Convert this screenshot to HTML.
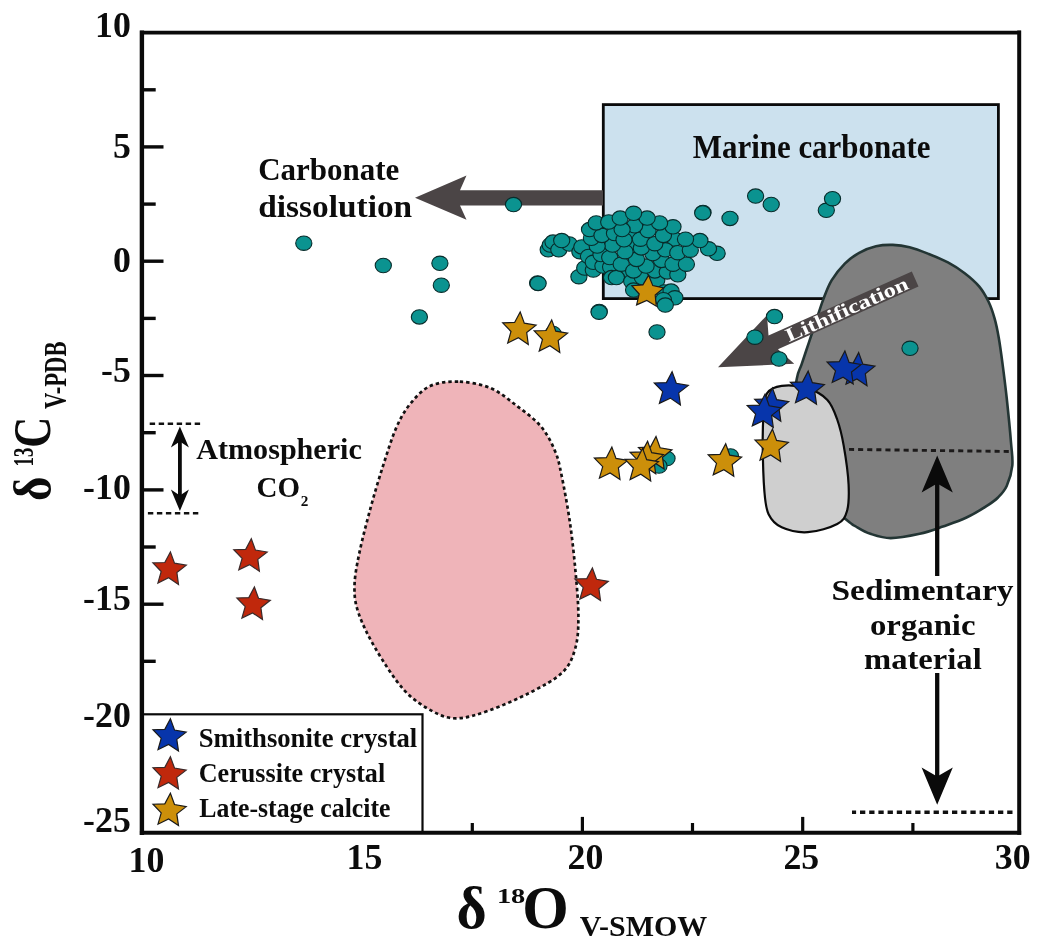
<!DOCTYPE html><html><head><meta charset="utf-8"><title>Stable isotope plot</title><style>html,body{margin:0;padding:0;background:#fff}svg{display:block}text{font-family:"Liberation Serif", serif;}</style></head><body>
<svg width="1042" height="949" viewBox="0 0 1042 949">
<rect width="1042" height="949" fill="#fff"/>
<rect x="603.3" y="104.6" width="395.1" height="194.0" fill="#cce1ee" stroke="#0a0a0a" stroke-width="2.8"/>
<path d="M603,190.3 L460,190.3 L466.5,175.5 L415,197.8 L466.5,219.8 L460,205.6 L603,205.6 Z" fill="#4b4546"/>
<path d="M458.2,381.6 C448.2,381.3 438.2,382.3 430.2,386.0 C422.2,389.7 415.8,397.0 410.1,404.0 C404.4,411.0 400.6,417.8 396.1,428.1 C391.6,438.4 387.3,452.6 383.0,466.0 C378.7,479.4 374.4,493.8 370.5,508.2 C366.6,522.6 362.2,539.3 359.5,552.3 C356.8,565.3 354.7,575.9 354.5,586.0 C354.3,596.1 355.0,602.6 358.5,613.0 C362.0,623.4 367.9,635.7 375.5,648.5 C383.1,661.3 394.4,679.5 404.0,690.0 C413.6,700.5 424.2,706.8 433.0,711.5 C441.8,716.2 447.7,718.5 457.0,718.3 C466.3,718.1 476.8,714.8 489.0,710.5 C501.2,706.2 518.1,698.8 530.3,692.5 C542.5,686.2 554.9,679.8 562.4,672.5 C569.9,665.2 572.5,657.9 575.2,648.5 C577.9,639.1 578.4,629.8 578.4,616.4 C578.4,603.0 576.7,584.3 575.2,568.3 C573.7,552.3 571.9,535.8 569.6,520.3 C567.3,504.7 563.9,486.6 561.5,475.0 C559.1,463.4 558.4,459.1 555.0,451.0 C551.6,442.9 547.3,434.0 541.0,426.5 C534.7,419.0 525.5,412.4 517.0,406.0 C508.6,399.6 500.1,392.1 490.3,388.0 C480.5,383.9 468.2,381.9 458.2,381.6Z" fill="#efb4b9" stroke="#111" stroke-width="2.7" stroke-dasharray="3.4 3"/>
<path d="M892.8,244.9 C887.2,244.7 881.6,245.0 876.0,246.3 C870.4,247.6 864.4,249.9 859.2,252.8 C854.0,255.7 849.4,259.0 844.8,263.6 C840.2,268.2 835.2,274.4 831.6,280.4 C828.0,286.4 825.8,292.8 823.2,299.6 C820.6,306.4 818.4,314.0 816.0,321.2 C813.6,328.4 811.2,335.6 808.8,342.8 C806.4,350.0 803.6,358.4 801.6,364.4 C799.6,370.4 798.4,369.5 796.8,378.8 C795.2,388.1 791.5,403.1 792.0,420.0 C792.5,436.9 791.0,463.4 800.0,480.0 C809.0,496.6 836.5,511.5 845.8,519.3 C855.1,527.0 851.8,524.1 855.9,526.5 C860.0,528.9 864.6,531.9 870.4,533.8 C876.2,535.7 882.5,538.1 890.7,538.1 C898.9,538.1 911.0,535.7 919.7,533.8 C928.4,531.9 935.2,529.2 942.9,526.5 C950.6,523.8 958.8,521.2 966.0,517.8 C973.2,514.4 981.1,509.6 986.4,506.2 C991.7,502.8 994.6,500.9 998.0,497.5 C1001.4,494.1 1004.3,491.3 1006.7,486.0 C1009.1,480.7 1011.6,472.9 1012.3,465.7 C1013.0,458.4 1011.9,453.8 1011.0,442.5 C1010.1,431.2 1008.1,411.0 1006.7,398.0 C1005.3,385.0 1003.9,374.4 1002.6,364.4 C1001.3,354.4 1000.1,345.6 998.8,338.0 C997.5,330.4 996.4,324.8 994.7,318.8 C993.0,312.8 991.3,307.4 988.7,302.0 C986.1,296.6 983.1,291.2 979.1,286.4 C975.1,281.6 969.9,277.2 964.7,273.2 C959.5,269.2 953.9,265.6 947.9,262.4 C941.9,259.2 935.2,256.5 928.8,254.0 C922.4,251.5 915.6,248.8 909.6,247.3 C903.6,245.8 898.4,245.1 892.8,244.9Z" fill="#7f7f7f" stroke="#233534" stroke-width="2.6"/>
<path d="M763.7,413.0 C764.4,404.8 764.0,397.8 767.0,393.3 C770.0,388.8 774.9,386.6 781.7,385.8 C788.5,385.0 800.2,386.0 807.8,388.4 C815.4,390.8 822.5,394.7 827.4,399.9 C832.3,405.1 834.5,411.9 837.2,419.5 C839.9,427.1 841.8,434.7 843.7,445.6 C845.6,456.5 848.1,473.9 848.6,484.8 C849.1,495.7 848.9,504.5 847.0,511.0 C845.1,517.5 843.7,520.5 837.2,524.0 C830.7,527.5 817.0,531.7 807.8,532.2 C798.5,532.8 788.2,530.3 781.7,527.3 C775.2,524.3 771.5,520.2 768.6,514.2 C765.7,508.2 765.4,503.4 764.4,491.4 C763.4,479.4 762.8,455.5 762.7,442.4 C762.6,429.3 763.0,421.2 763.7,413.0Z" fill="#cfcfcf" stroke="#0a0a0a" stroke-width="2.2"/>
<line x1="849" y1="449.4" x2="1010.5" y2="451.5" stroke="#1c1a1a" stroke-width="2.9" stroke-dasharray="5.1 4"/>
<g transform="translate(718,367.2) rotate(-24.1)">
<path d="M0,0 L66,-27.5 L59,-8.2 L216,-8.2 L216,8.2 L62,8.2 L71,28 Z" fill="#4b4546"/>
<text x="75.0" y="6.3" font-size="19.5" font-weight="bold" text-anchor="start" fill="#fff" textLength="132.5" lengthAdjust="spacingAndGlyphs">Lithification</text>
</g>
<ellipse cx="303.8" cy="243.2" rx="8.1" ry="7.2" fill="#0b9390" stroke="#082c2b" stroke-width="1.1"/>
<ellipse cx="383.3" cy="265.5" rx="8.1" ry="7.2" fill="#0b9390" stroke="#082c2b" stroke-width="1.1"/>
<ellipse cx="439.9" cy="263.3" rx="8.1" ry="7.2" fill="#0b9390" stroke="#082c2b" stroke-width="1.1"/>
<ellipse cx="441.3" cy="285.2" rx="8.1" ry="7.2" fill="#0b9390" stroke="#082c2b" stroke-width="1.1"/>
<ellipse cx="419.4" cy="316.9" rx="8.1" ry="7.2" fill="#0b9390" stroke="#082c2b" stroke-width="1.1"/>
<ellipse cx="513.5" cy="204.6" rx="8.1" ry="7.2" fill="#0b9390" stroke="#082c2b" stroke-width="1.1"/>
<ellipse cx="537.6" cy="283.0" rx="8.1" ry="7.2" fill="#0b9390" stroke="#082c2b" stroke-width="1.1"/>
<ellipse cx="599.2" cy="311.4" rx="8.1" ry="7.2" fill="#0b9390" stroke="#082c2b" stroke-width="1.1"/>
<ellipse cx="703.0" cy="212.5" rx="8.1" ry="7.2" fill="#0b9390" stroke="#082c2b" stroke-width="1.1"/>
<ellipse cx="730.0" cy="218.4" rx="8.1" ry="7.2" fill="#0b9390" stroke="#082c2b" stroke-width="1.1"/>
<ellipse cx="755.6" cy="196.1" rx="8.1" ry="7.2" fill="#0b9390" stroke="#082c2b" stroke-width="1.1"/>
<ellipse cx="771.2" cy="204.5" rx="8.1" ry="7.2" fill="#0b9390" stroke="#082c2b" stroke-width="1.1"/>
<ellipse cx="826.3" cy="210.3" rx="8.1" ry="7.2" fill="#0b9390" stroke="#082c2b" stroke-width="1.1"/>
<ellipse cx="832.5" cy="198.7" rx="8.1" ry="7.2" fill="#0b9390" stroke="#082c2b" stroke-width="1.1"/>
<ellipse cx="774.5" cy="316.6" rx="8.1" ry="7.2" fill="#0b9390" stroke="#082c2b" stroke-width="1.1"/>
<ellipse cx="754.9" cy="337.2" rx="8.1" ry="7.2" fill="#0b9390" stroke="#082c2b" stroke-width="1.1"/>
<ellipse cx="779.0" cy="359.0" rx="8.1" ry="7.2" fill="#0b9390" stroke="#082c2b" stroke-width="1.1"/>
<ellipse cx="910.0" cy="348.3" rx="8.1" ry="7.2" fill="#0b9390" stroke="#082c2b" stroke-width="1.1"/>
<ellipse cx="657.0" cy="332.0" rx="8.1" ry="7.2" fill="#0b9390" stroke="#082c2b" stroke-width="1.1"/>
<ellipse cx="667.0" cy="458.5" rx="8.1" ry="7.2" fill="#0b9390" stroke="#082c2b" stroke-width="1.1"/>
<ellipse cx="659.0" cy="466.0" rx="8.1" ry="7.2" fill="#0b9390" stroke="#082c2b" stroke-width="1.1"/>
<ellipse cx="730.5" cy="456.0" rx="8.1" ry="7.2" fill="#0b9390" stroke="#082c2b" stroke-width="1.1"/>
<ellipse cx="553.0" cy="333.5" rx="8.1" ry="7.2" fill="#0b9390" stroke="#082c2b" stroke-width="1.1"/>
<ellipse cx="632.1" cy="233.9" rx="8.1" ry="7.2" fill="#0b9390" stroke="#082c2b" stroke-width="1.1"/>
<ellipse cx="633.3" cy="245.4" rx="8.1" ry="7.2" fill="#0b9390" stroke="#082c2b" stroke-width="1.1"/>
<ellipse cx="624.8" cy="272.8" rx="8.1" ry="7.2" fill="#0b9390" stroke="#082c2b" stroke-width="1.1"/>
<ellipse cx="674.5" cy="239.1" rx="8.1" ry="7.2" fill="#0b9390" stroke="#082c2b" stroke-width="1.1"/>
<ellipse cx="548.2" cy="249.8" rx="8.1" ry="7.2" fill="#0b9390" stroke="#082c2b" stroke-width="1.1"/>
<ellipse cx="550.2" cy="245.0" rx="8.1" ry="7.2" fill="#0b9390" stroke="#082c2b" stroke-width="1.1"/>
<ellipse cx="553.0" cy="242.1" rx="8.1" ry="7.2" fill="#0b9390" stroke="#082c2b" stroke-width="1.1"/>
<ellipse cx="558.8" cy="249.8" rx="8.1" ry="7.2" fill="#0b9390" stroke="#082c2b" stroke-width="1.1"/>
<ellipse cx="569.3" cy="244.0" rx="8.1" ry="7.2" fill="#0b9390" stroke="#082c2b" stroke-width="1.1"/>
<ellipse cx="561.7" cy="240.6" rx="8.1" ry="7.2" fill="#0b9390" stroke="#082c2b" stroke-width="1.1"/>
<ellipse cx="578.9" cy="276.7" rx="8.1" ry="7.2" fill="#0b9390" stroke="#082c2b" stroke-width="1.1"/>
<ellipse cx="584.7" cy="268.0" rx="8.1" ry="7.2" fill="#0b9390" stroke="#082c2b" stroke-width="1.1"/>
<ellipse cx="593.3" cy="270.0" rx="8.1" ry="7.2" fill="#0b9390" stroke="#082c2b" stroke-width="1.1"/>
<ellipse cx="579.9" cy="251.7" rx="8.1" ry="7.2" fill="#0b9390" stroke="#082c2b" stroke-width="1.1"/>
<ellipse cx="581.8" cy="246.9" rx="8.1" ry="7.2" fill="#0b9390" stroke="#082c2b" stroke-width="1.1"/>
<ellipse cx="588.5" cy="256.5" rx="8.1" ry="7.2" fill="#0b9390" stroke="#082c2b" stroke-width="1.1"/>
<ellipse cx="593.3" cy="262.3" rx="8.1" ry="7.2" fill="#0b9390" stroke="#082c2b" stroke-width="1.1"/>
<ellipse cx="602.9" cy="266.1" rx="8.1" ry="7.2" fill="#0b9390" stroke="#082c2b" stroke-width="1.1"/>
<ellipse cx="610.6" cy="267.1" rx="8.1" ry="7.2" fill="#0b9390" stroke="#082c2b" stroke-width="1.1"/>
<ellipse cx="601.0" cy="254.6" rx="8.1" ry="7.2" fill="#0b9390" stroke="#082c2b" stroke-width="1.1"/>
<ellipse cx="609.7" cy="257.5" rx="8.1" ry="7.2" fill="#0b9390" stroke="#082c2b" stroke-width="1.1"/>
<ellipse cx="611.6" cy="277.6" rx="8.1" ry="7.2" fill="#0b9390" stroke="#082c2b" stroke-width="1.1"/>
<ellipse cx="616.4" cy="277.6" rx="8.1" ry="7.2" fill="#0b9390" stroke="#082c2b" stroke-width="1.1"/>
<ellipse cx="631.7" cy="281.5" rx="8.1" ry="7.2" fill="#0b9390" stroke="#082c2b" stroke-width="1.1"/>
<ellipse cx="633.6" cy="290.1" rx="8.1" ry="7.2" fill="#0b9390" stroke="#082c2b" stroke-width="1.1"/>
<ellipse cx="642.3" cy="277.6" rx="8.1" ry="7.2" fill="#0b9390" stroke="#082c2b" stroke-width="1.1"/>
<ellipse cx="656.7" cy="280.5" rx="8.1" ry="7.2" fill="#0b9390" stroke="#082c2b" stroke-width="1.1"/>
<ellipse cx="654.8" cy="270.9" rx="8.1" ry="7.2" fill="#0b9390" stroke="#082c2b" stroke-width="1.1"/>
<ellipse cx="667.2" cy="271.9" rx="8.1" ry="7.2" fill="#0b9390" stroke="#082c2b" stroke-width="1.1"/>
<ellipse cx="677.8" cy="274.8" rx="8.1" ry="7.2" fill="#0b9390" stroke="#082c2b" stroke-width="1.1"/>
<ellipse cx="621.2" cy="264.2" rx="8.1" ry="7.2" fill="#0b9390" stroke="#082c2b" stroke-width="1.1"/>
<ellipse cx="633.6" cy="270.9" rx="8.1" ry="7.2" fill="#0b9390" stroke="#082c2b" stroke-width="1.1"/>
<ellipse cx="646.1" cy="266.1" rx="8.1" ry="7.2" fill="#0b9390" stroke="#082c2b" stroke-width="1.1"/>
<ellipse cx="636.5" cy="259.4" rx="8.1" ry="7.2" fill="#0b9390" stroke="#082c2b" stroke-width="1.1"/>
<ellipse cx="625.0" cy="251.7" rx="8.1" ry="7.2" fill="#0b9390" stroke="#082c2b" stroke-width="1.1"/>
<ellipse cx="661.5" cy="260.4" rx="8.1" ry="7.2" fill="#0b9390" stroke="#082c2b" stroke-width="1.1"/>
<ellipse cx="673.0" cy="264.2" rx="8.1" ry="7.2" fill="#0b9390" stroke="#082c2b" stroke-width="1.1"/>
<ellipse cx="686.4" cy="264.2" rx="8.1" ry="7.2" fill="#0b9390" stroke="#082c2b" stroke-width="1.1"/>
<ellipse cx="652.8" cy="253.6" rx="8.1" ry="7.2" fill="#0b9390" stroke="#082c2b" stroke-width="1.1"/>
<ellipse cx="665.3" cy="249.8" rx="8.1" ry="7.2" fill="#0b9390" stroke="#082c2b" stroke-width="1.1"/>
<ellipse cx="677.8" cy="252.7" rx="8.1" ry="7.2" fill="#0b9390" stroke="#082c2b" stroke-width="1.1"/>
<ellipse cx="690.3" cy="250.2" rx="8.1" ry="7.2" fill="#0b9390" stroke="#082c2b" stroke-width="1.1"/>
<ellipse cx="641.3" cy="247.9" rx="8.1" ry="7.2" fill="#0b9390" stroke="#082c2b" stroke-width="1.1"/>
<ellipse cx="612.5" cy="245.0" rx="8.1" ry="7.2" fill="#0b9390" stroke="#082c2b" stroke-width="1.1"/>
<ellipse cx="597.2" cy="246.0" rx="8.1" ry="7.2" fill="#0b9390" stroke="#082c2b" stroke-width="1.1"/>
<ellipse cx="591.4" cy="238.3" rx="8.1" ry="7.2" fill="#0b9390" stroke="#082c2b" stroke-width="1.1"/>
<ellipse cx="717.1" cy="253.3" rx="8.1" ry="7.2" fill="#0b9390" stroke="#082c2b" stroke-width="1.1"/>
<ellipse cx="708.5" cy="248.8" rx="8.1" ry="7.2" fill="#0b9390" stroke="#082c2b" stroke-width="1.1"/>
<ellipse cx="699.9" cy="240.6" rx="8.1" ry="7.2" fill="#0b9390" stroke="#082c2b" stroke-width="1.1"/>
<ellipse cx="685.5" cy="239.2" rx="8.1" ry="7.2" fill="#0b9390" stroke="#082c2b" stroke-width="1.1"/>
<ellipse cx="589.5" cy="229.6" rx="8.1" ry="7.2" fill="#0b9390" stroke="#082c2b" stroke-width="1.1"/>
<ellipse cx="602.0" cy="235.4" rx="8.1" ry="7.2" fill="#0b9390" stroke="#082c2b" stroke-width="1.1"/>
<ellipse cx="614.5" cy="233.5" rx="8.1" ry="7.2" fill="#0b9390" stroke="#082c2b" stroke-width="1.1"/>
<ellipse cx="624.0" cy="239.8" rx="8.1" ry="7.2" fill="#0b9390" stroke="#082c2b" stroke-width="1.1"/>
<ellipse cx="640.4" cy="239.2" rx="8.1" ry="7.2" fill="#0b9390" stroke="#082c2b" stroke-width="1.1"/>
<ellipse cx="654.8" cy="243.7" rx="8.1" ry="7.2" fill="#0b9390" stroke="#082c2b" stroke-width="1.1"/>
<ellipse cx="663.4" cy="235.4" rx="8.1" ry="7.2" fill="#0b9390" stroke="#082c2b" stroke-width="1.1"/>
<ellipse cx="648.0" cy="230.6" rx="8.1" ry="7.2" fill="#0b9390" stroke="#082c2b" stroke-width="1.1"/>
<ellipse cx="634.6" cy="225.8" rx="8.1" ry="7.2" fill="#0b9390" stroke="#082c2b" stroke-width="1.1"/>
<ellipse cx="622.1" cy="229.6" rx="8.1" ry="7.2" fill="#0b9390" stroke="#082c2b" stroke-width="1.1"/>
<ellipse cx="596.2" cy="222.9" rx="8.1" ry="7.2" fill="#0b9390" stroke="#082c2b" stroke-width="1.1"/>
<ellipse cx="608.7" cy="222.0" rx="8.1" ry="7.2" fill="#0b9390" stroke="#082c2b" stroke-width="1.1"/>
<ellipse cx="673.0" cy="226.8" rx="8.1" ry="7.2" fill="#0b9390" stroke="#082c2b" stroke-width="1.1"/>
<ellipse cx="659.6" cy="222.9" rx="8.1" ry="7.2" fill="#0b9390" stroke="#082c2b" stroke-width="1.1"/>
<ellipse cx="620.2" cy="218.1" rx="8.1" ry="7.2" fill="#0b9390" stroke="#082c2b" stroke-width="1.1"/>
<ellipse cx="647.1" cy="218.1" rx="8.1" ry="7.2" fill="#0b9390" stroke="#082c2b" stroke-width="1.1"/>
<ellipse cx="633.6" cy="213.3" rx="8.1" ry="7.2" fill="#0b9390" stroke="#082c2b" stroke-width="1.1"/>
<ellipse cx="664.4" cy="292.0" rx="8.1" ry="7.2" fill="#0b9390" stroke="#082c2b" stroke-width="1.1"/>
<ellipse cx="671.1" cy="291.1" rx="8.1" ry="7.2" fill="#0b9390" stroke="#082c2b" stroke-width="1.1"/>
<ellipse cx="674.9" cy="297.8" rx="8.1" ry="7.2" fill="#0b9390" stroke="#082c2b" stroke-width="1.1"/>
<ellipse cx="663.4" cy="299.7" rx="8.1" ry="7.2" fill="#0b9390" stroke="#082c2b" stroke-width="1.1"/>
<ellipse cx="665.3" cy="305.1" rx="8.1" ry="7.2" fill="#0b9390" stroke="#082c2b" stroke-width="1.1"/>
<ellipse cx="702.7" cy="212.9" rx="8.1" ry="7.2" fill="#0b9390" stroke="#082c2b" stroke-width="1.1"/>
<ellipse cx="538.1" cy="283.4" rx="8.1" ry="7.2" fill="#0b9390" stroke="#082c2b" stroke-width="1.1"/>
<ellipse cx="599.1" cy="312.2" rx="8.1" ry="7.2" fill="#0b9390" stroke="#082c2b" stroke-width="1.1"/>
<polygon points="648.6,275.2 652.8,285.6 663.7,287.9 655.2,295.1 656.3,306.2 646.8,300.4 636.6,304.9 639.2,294.0 631.8,285.7 642.9,284.9" fill="#cc8f0a" stroke="#1a1a1a" stroke-width="1.2" stroke-linejoin="miter"/>
<polygon points="520.2,311.9 524.3,323.2 536.1,325.2 526.7,332.6 528.3,344.4 518.4,337.8 507.7,343.0 511.0,331.5 502.7,322.9 514.6,322.5" fill="#cc8f0a" stroke="#1a1a1a" stroke-width="1.2" stroke-linejoin="miter"/>
<polygon points="551.7,319.9 555.8,331.2 567.6,333.2 558.2,340.6 559.8,352.4 549.9,345.8 539.2,351.0 542.5,339.5 534.2,330.9 546.1,330.5" fill="#cc8f0a" stroke="#1a1a1a" stroke-width="1.2" stroke-linejoin="miter"/>
<polygon points="656.0,436.5 660.1,447.8 671.9,449.8 662.5,457.2 664.1,469.0 654.2,462.4 643.5,467.6 646.8,456.1 638.5,447.5 650.4,447.1" fill="#cc8f0a" stroke="#1a1a1a" stroke-width="1.2" stroke-linejoin="miter"/>
<polygon points="647.6,441.3 651.7,452.6 663.5,454.6 654.1,462.0 655.7,473.8 645.8,467.2 635.1,472.4 638.4,460.9 630.1,452.3 642.0,451.9" fill="#cc8f0a" stroke="#1a1a1a" stroke-width="1.2" stroke-linejoin="miter"/>
<polygon points="611.9,447.1 616.0,458.4 627.8,460.4 618.4,467.8 620.0,479.6 610.1,473.0 599.4,478.2 602.7,466.7 594.4,458.1 606.3,457.7" fill="#cc8f0a" stroke="#1a1a1a" stroke-width="1.2" stroke-linejoin="miter"/>
<polygon points="642.6,448.4 646.7,459.7 658.5,461.7 649.1,469.1 650.7,480.9 640.8,474.3 630.1,479.5 633.4,468.0 625.1,459.4 637.0,459.0" fill="#cc8f0a" stroke="#1a1a1a" stroke-width="1.2" stroke-linejoin="miter"/>
<polygon points="725.7,443.8 729.8,455.1 741.6,457.1 732.2,464.5 733.8,476.3 723.9,469.7 713.2,474.9 716.5,463.4 708.2,454.8 720.1,454.4" fill="#cc8f0a" stroke="#1a1a1a" stroke-width="1.2" stroke-linejoin="miter"/>
<polygon points="772.5,429.1 776.6,440.4 788.4,442.4 779.0,449.8 780.6,461.6 770.7,455.0 760.0,460.2 763.3,448.7 755.0,440.1 766.9,439.7" fill="#cc8f0a" stroke="#1a1a1a" stroke-width="1.2" stroke-linejoin="miter"/>
<polygon points="672.1,371.8 676.3,383.3 688.3,385.4 678.7,392.9 680.4,404.9 670.3,398.1 659.4,403.4 662.7,391.7 654.3,383.0 666.4,382.6" fill="#0735ab" stroke="#1a1a1a" stroke-width="1.2" stroke-linejoin="miter"/>
<polygon points="858.7,352.6 862.9,364.1 874.9,366.2 865.3,373.7 867.0,385.7 856.9,378.9 846.0,384.2 849.3,372.5 840.9,363.8 853.0,363.4" fill="#0735ab" stroke="#1a1a1a" stroke-width="1.2" stroke-linejoin="miter"/>
<polygon points="844.9,350.9 849.1,362.4 861.1,364.5 851.5,372.0 853.2,384.0 843.1,377.2 832.2,382.5 835.5,370.8 827.1,362.1 839.2,361.7" fill="#0735ab" stroke="#1a1a1a" stroke-width="1.2" stroke-linejoin="miter"/>
<polygon points="808.2,371.1 812.4,382.6 824.4,384.7 814.8,392.2 816.5,404.2 806.4,397.4 795.5,402.7 798.8,391.0 790.4,382.3 802.5,381.9" fill="#0735ab" stroke="#1a1a1a" stroke-width="1.2" stroke-linejoin="miter"/>
<polygon points="772.5,388.1 776.7,399.6 788.7,401.7 779.1,409.2 780.8,421.2 770.7,414.4 759.8,419.7 763.1,408.0 754.7,399.3 766.8,398.9" fill="#0735ab" stroke="#1a1a1a" stroke-width="1.2" stroke-linejoin="miter"/>
<polygon points="765.0,394.3 769.2,405.8 781.2,407.9 771.6,415.4 773.3,427.4 763.2,420.6 752.3,425.9 755.6,414.2 747.2,405.5 759.3,405.1" fill="#0735ab" stroke="#1a1a1a" stroke-width="1.2" stroke-linejoin="miter"/>
<polygon points="170.4,551.9 174.5,563.2 186.3,565.2 176.9,572.6 178.5,584.4 168.6,577.8 157.9,583.0 161.2,571.5 152.9,562.9 164.8,562.5" fill="#c0280c" stroke="#3a2a2a" stroke-width="1.2" stroke-linejoin="miter"/>
<polygon points="251.3,538.7 255.4,550.0 267.2,552.0 257.8,559.4 259.4,571.2 249.5,564.6 238.8,569.8 242.1,558.3 233.8,549.7 245.7,549.3" fill="#c0280c" stroke="#3a2a2a" stroke-width="1.2" stroke-linejoin="miter"/>
<polygon points="254.4,587.0 258.5,598.3 270.3,600.3 260.9,607.7 262.5,619.5 252.6,612.9 241.9,618.1 245.2,606.6 236.9,598.0 248.8,597.6" fill="#c0280c" stroke="#3a2a2a" stroke-width="1.2" stroke-linejoin="miter"/>
<polygon points="592.4,568.0 596.5,579.3 608.3,581.3 598.9,588.7 600.5,600.5 590.6,593.9 579.9,599.1 583.2,587.6 574.9,579.0 586.8,578.6" fill="#c0280c" stroke="#3a2a2a" stroke-width="1.2" stroke-linejoin="miter"/>
<line x1="149.7" y1="423.7" x2="200.2" y2="423.7" stroke="#111" stroke-width="2.6" stroke-dasharray="5.4 3.6"/>
<line x1="147.9" y1="513.3" x2="198.6" y2="513.3" stroke="#111" stroke-width="2.6" stroke-dasharray="5.4 3.6"/>
<line x1="179.9" y1="440" x2="179.9" y2="496" stroke="#0a0a0a" stroke-width="3.8"/>
<path d="M179.9,426.6 L170.9,447.6 L179.9,441.6 L188.9,447.6 Z" fill="#0a0a0a"/>
<path d="M179.9,511 L170.9,489.5 L179.9,495.5 L188.9,489.5 Z" fill="#0a0a0a"/>
<text x="196.3" y="458.7" font-size="29" font-weight="bold" text-anchor="start" fill="#0c0c0c" textLength="165.5" lengthAdjust="spacingAndGlyphs">Atmospheric</text>
<text x="256.5" y="497.4" font-size="30" font-weight="bold" text-anchor="start" fill="#0c0c0c" textLength="43.5" lengthAdjust="spacingAndGlyphs">CO</text>
<text x="300.7" y="505.5" font-size="15" font-weight="bold" text-anchor="start" fill="#0c0c0c" textLength="7.6" lengthAdjust="spacingAndGlyphs">2</text>
<line x1="937.2" y1="470" x2="937.2" y2="576" stroke="#0a0a0a" stroke-width="4.3"/>
<path d="M937.2,455.5 L921.6,492.5 L937.2,483.5 L952.8000000000001,492.5 Z" fill="#0a0a0a"/>
<line x1="937.2" y1="673" x2="937.2" y2="785" stroke="#0a0a0a" stroke-width="4.3"/>
<path d="M937.2,804.8 L921.6,767.5999999999999 L937.2,776.5999999999999 L952.8000000000001,767.5999999999999 Z" fill="#0a0a0a"/>
<line x1="1012.5" y1="812.3" x2="852" y2="812.3" stroke="#111" stroke-width="3.4" stroke-dasharray="5.3 3.9"/>
<text x="831.5" y="600.0" font-size="29.5" font-weight="bold" text-anchor="start" fill="#0c0c0c" textLength="182.0" lengthAdjust="spacingAndGlyphs">Sedimentary</text>
<text x="870.0" y="634.8" font-size="29.5" font-weight="bold" text-anchor="start" fill="#0c0c0c" textLength="105.5" lengthAdjust="spacingAndGlyphs">organic</text>
<text x="864.0" y="669.0" font-size="29.5" font-weight="bold" text-anchor="start" fill="#0c0c0c" textLength="117.7" lengthAdjust="spacingAndGlyphs">material</text>
<text x="258.2" y="180.1" font-size="31.5" font-weight="bold" text-anchor="start" fill="#0c0c0c" textLength="141.2" lengthAdjust="spacingAndGlyphs">Carbonate</text>
<text x="258.2" y="217.3" font-size="31.5" font-weight="bold" text-anchor="start" fill="#0c0c0c" textLength="154.0" lengthAdjust="spacingAndGlyphs">dissolution</text>
<text x="692.8" y="157.8" font-size="33.5" font-weight="bold" text-anchor="start" fill="#0c0c0c" textLength="237.8" lengthAdjust="spacingAndGlyphs">Marine carbonate</text>
<line x1="141.9" y1="89.8" x2="155.7" y2="89.8" stroke="#0a0a0a" stroke-width="3.4"/>
<line x1="141.9" y1="146.9" x2="163.5" y2="146.9" stroke="#0a0a0a" stroke-width="3.4"/>
<line x1="141.9" y1="204.1" x2="155.7" y2="204.1" stroke="#0a0a0a" stroke-width="3.4"/>
<line x1="141.9" y1="261.2" x2="163.5" y2="261.2" stroke="#0a0a0a" stroke-width="3.4"/>
<line x1="141.9" y1="318.4" x2="155.7" y2="318.4" stroke="#0a0a0a" stroke-width="3.4"/>
<line x1="141.9" y1="375.5" x2="163.5" y2="375.5" stroke="#0a0a0a" stroke-width="3.4"/>
<line x1="141.9" y1="432.7" x2="155.7" y2="432.7" stroke="#0a0a0a" stroke-width="3.4"/>
<line x1="141.9" y1="489.9" x2="163.5" y2="489.9" stroke="#0a0a0a" stroke-width="3.4"/>
<line x1="141.9" y1="547.0" x2="155.7" y2="547.0" stroke="#0a0a0a" stroke-width="3.4"/>
<line x1="141.9" y1="604.2" x2="163.5" y2="604.2" stroke="#0a0a0a" stroke-width="3.4"/>
<line x1="141.9" y1="661.3" x2="155.7" y2="661.3" stroke="#0a0a0a" stroke-width="3.4"/>
<line x1="141.9" y1="718.5" x2="163.5" y2="718.5" stroke="#0a0a0a" stroke-width="3.4"/>
<line x1="141.9" y1="775.6" x2="155.7" y2="775.6" stroke="#0a0a0a" stroke-width="3.4"/>
<line x1="252.0" y1="823" x2="252.0" y2="832.8" stroke="#0a0a0a" stroke-width="3.2"/>
<line x1="362.1" y1="816.9" x2="362.1" y2="832.8" stroke="#0a0a0a" stroke-width="3.2"/>
<line x1="472.3" y1="823" x2="472.3" y2="832.8" stroke="#0a0a0a" stroke-width="3.2"/>
<line x1="582.4" y1="816.9" x2="582.4" y2="832.8" stroke="#0a0a0a" stroke-width="3.2"/>
<line x1="692.5" y1="823" x2="692.5" y2="832.8" stroke="#0a0a0a" stroke-width="3.2"/>
<line x1="802.7" y1="816.9" x2="802.7" y2="832.8" stroke="#0a0a0a" stroke-width="3.2"/>
<line x1="912.9" y1="823" x2="912.9" y2="832.8" stroke="#0a0a0a" stroke-width="3.2"/>
<rect x="141.9" y="714.3" width="280.6" height="118.5" fill="#fff" stroke="#0a0a0a" stroke-width="2.2"/>
<polygon points="170.4,718.8 174.5,730.0 186.2,732.1 176.8,739.4 178.5,751.1 168.6,744.5 158.0,749.7 161.2,738.3 153.0,729.7 164.8,729.3" fill="#0735ab" stroke="#1a1a1a" stroke-width="1.2" stroke-linejoin="miter"/>
<polygon points="170.4,756.8 174.5,768.0 186.2,770.1 176.8,777.4 178.5,789.1 168.6,782.5 158.0,787.7 161.2,776.3 153.0,767.7 164.8,767.3" fill="#c0280c" stroke="#3a2a2a" stroke-width="1.2" stroke-linejoin="miter"/>
<polygon points="170.4,793.3 174.5,804.5 186.2,806.6 176.8,813.9 178.5,825.6 168.6,819.0 158.0,824.2 161.2,812.8 153.0,804.2 164.8,803.8" fill="#cc8f0a" stroke="#1a1a1a" stroke-width="1.2" stroke-linejoin="miter"/>
<text x="198.7" y="747.3" font-size="26.5" font-weight="bold" text-anchor="start" fill="#0c0c0c" textLength="218.6" lengthAdjust="spacingAndGlyphs">Smithsonite crystal</text>
<text x="198.7" y="782.1" font-size="26.5" font-weight="bold" text-anchor="start" fill="#0c0c0c" textLength="186.5" lengthAdjust="spacingAndGlyphs">Cerussite crystal</text>
<text x="199.3" y="816.6" font-size="26.5" font-weight="bold" text-anchor="start" fill="#0c0c0c" textLength="191.2" lengthAdjust="spacingAndGlyphs">Late-stage calcite</text>
<path d="M141.9,832.8 L141.9,32.6" stroke="#0a0a0a" stroke-width="4.4" fill="none" stroke-linecap="square"/>
<path d="M141.9,32.6 L1019.2,32.6" stroke="#0a0a0a" stroke-width="3.6" fill="none" stroke-linecap="square"/>
<path d="M1019.2,32.6 L1019.2,832.8" stroke="#0a0a0a" stroke-width="4" fill="none" stroke-linecap="square"/>
<path d="M141.9,832.8 L1019.2,832.8" stroke="#0a0a0a" stroke-width="4" fill="none" stroke-linecap="square"/>
<text x="95.0" y="37.4" font-size="36.5" font-weight="bold" text-anchor="start" fill="#0c0c0c" textLength="35.8" lengthAdjust="spacingAndGlyphs">10</text>
<text x="112.9" y="158.0" font-size="36.5" font-weight="bold" text-anchor="start" fill="#0c0c0c" textLength="17.9" lengthAdjust="spacingAndGlyphs">5</text>
<text x="112.9" y="272.0" font-size="36.5" font-weight="bold" text-anchor="start" fill="#0c0c0c" textLength="17.9" lengthAdjust="spacingAndGlyphs">0</text>
<text x="101.0" y="381.6" font-size="36.5" font-weight="bold" text-anchor="start" fill="#0c0c0c" textLength="29.8" lengthAdjust="spacingAndGlyphs">-5</text>
<text x="83.1" y="499.3" font-size="36.5" font-weight="bold" text-anchor="start" fill="#0c0c0c" textLength="47.7" lengthAdjust="spacingAndGlyphs">-10</text>
<text x="83.1" y="610.3" font-size="36.5" font-weight="bold" text-anchor="start" fill="#0c0c0c" textLength="47.7" lengthAdjust="spacingAndGlyphs">-15</text>
<text x="83.1" y="726.8" font-size="36.5" font-weight="bold" text-anchor="start" fill="#0c0c0c" textLength="47.7" lengthAdjust="spacingAndGlyphs">-20</text>
<text x="83.1" y="832.3" font-size="36.5" font-weight="bold" text-anchor="start" fill="#0c0c0c" textLength="47.7" lengthAdjust="spacingAndGlyphs">-25</text>
<text x="128.6" y="871.8" font-size="36.5" font-weight="bold" text-anchor="start" fill="#0c0c0c" textLength="35.8" lengthAdjust="spacingAndGlyphs">10</text>
<text x="346.6" y="868.8" font-size="36.5" font-weight="bold" text-anchor="start" fill="#0c0c0c" textLength="35.8" lengthAdjust="spacingAndGlyphs">15</text>
<text x="567.6" y="869.2" font-size="36.5" font-weight="bold" text-anchor="start" fill="#0c0c0c" textLength="35.8" lengthAdjust="spacingAndGlyphs">20</text>
<text x="783.4" y="868.8" font-size="36.5" font-weight="bold" text-anchor="start" fill="#0c0c0c" textLength="35.8" lengthAdjust="spacingAndGlyphs">25</text>
<text x="994.8" y="868.8" font-size="36.5" font-weight="bold" text-anchor="start" fill="#0c0c0c" textLength="35.8" lengthAdjust="spacingAndGlyphs">30</text>
<text x="456.6" y="927.5" font-size="60" font-weight="bold" text-anchor="start" fill="#0c0c0c" textLength="30.2" lengthAdjust="spacingAndGlyphs">δ</text>
<text x="496.9" y="903.2" font-size="21.5" font-weight="bold" text-anchor="start" fill="#0c0c0c" textLength="28.4" lengthAdjust="spacingAndGlyphs">18</text>
<text x="522.2" y="928.2" font-size="62" font-weight="bold" text-anchor="start" fill="#0c0c0c" textLength="46.5" lengthAdjust="spacingAndGlyphs">O</text>
<text x="579.7" y="936.4" font-size="28.5" font-weight="bold" text-anchor="start" fill="#0c0c0c" textLength="127.5" lengthAdjust="spacingAndGlyphs">V-SMOW</text>
<g transform="translate(50,498) rotate(-90)">
<text x="-3.0" y="0.0" font-size="52" font-weight="bold" text-anchor="start" fill="#0c0c0c" textLength="24.5" lengthAdjust="spacingAndGlyphs">δ</text>
<text x="31.5" y="-17.3" font-size="30" font-weight="bold" text-anchor="start" fill="#0c0c0c" textLength="18.8" lengthAdjust="spacingAndGlyphs">13</text>
<text x="50.3" y="0.0" font-size="52" font-weight="bold" text-anchor="start" fill="#0c0c0c" textLength="31.0" lengthAdjust="spacingAndGlyphs">C</text>
<text x="89.0" y="16.0" font-size="31" font-weight="bold" text-anchor="start" fill="#0c0c0c" textLength="67.5" lengthAdjust="spacingAndGlyphs">V-PDB</text>
</g>
</svg></body></html>
